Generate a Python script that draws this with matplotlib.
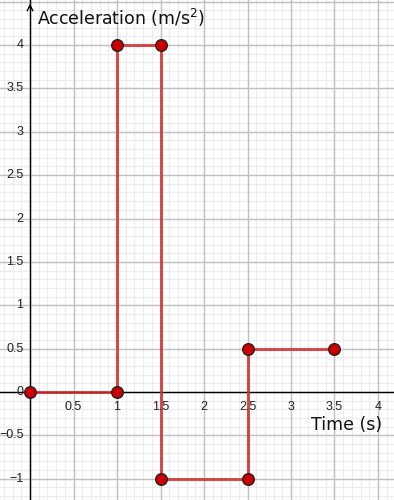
import matplotlib
matplotlib.use("Agg")
import matplotlib.pyplot as plt
import numpy as np

time_pts = [0, 1, 1, 1.5, 1.5, 2.5, 2.5, 3.5]
accel_pts = [0, 0, 4, 4, -1, -1, 0.5, 0.5]
x_ticks = [0.5, 1, 1.5, 2, 2.5, 3, 3.5, 4]
x_tick_labels = ["0.5", "1", "1.5", "2", "2.5", "3", "3.5", "4"]
y_ticks = [-1, -0.5, 0, 0.5, 1, 1.5, 2, 2.5, 3, 3.5, 4]
y_tick_labels = ["\u22121", "\u22120.5", "0", "0.5", "1", "1.5", "2", "2.5", "3", "3.5", "4"]

fig = plt.figure(figsize=(3.94, 5.0), dpi=100)
ax = fig.add_axes([0, 0, 1, 1])
xmin, xmax = -0.345, 4.184
ymin, ymax = -1.245, 4.519
ax.set_xlim(xmin, xmax)
ax.set_ylim(ymin, ymax)
for s in ax.spines.values():
    s.set_visible(False)
ax.set_xticks([]); ax.set_yticks([])

# grid
for v in np.arange(-0.3, 4.2, 0.1):
    ax.axvline(v, color="#ececec", lw=0.8, zorder=0)
for v in np.arange(-1.2, 4.6, 0.1):
    ax.axhline(v, color="#ececec", lw=0.8, zorder=0)
for v in np.arange(-0.0, 4.2, 0.5):
    ax.axvline(v, color="#c0c0c0", lw=1.0, zorder=0.5)
for v in np.arange(-1.0, 4.6, 0.5):
    ax.axhline(v, color="#c0c0c0", lw=1.0, zorder=0.5)

# axes
ax.axhline(0, color="black", lw=1.0, zorder=1)
ax.axvline(0, color="black", lw=1.0, zorder=1)
ax.annotate("", xy=(0, ymax - 0.01), xytext=(0, ymax - 0.12),
            arrowprops=dict(arrowstyle="->", color="black", lw=1.0), zorder=1)

tick_font = "Liberation Sans"
for t, lab in zip(x_ticks, x_tick_labels):
    ax.text(t, -0.1, lab, ha="center", va="top", fontsize=9, color="#222222", family=tick_font)
for t, lab in zip(y_ticks, y_tick_labels):
    ax.text(-0.075, t, lab, ha="right", va="center", fontsize=9, color="#222222", family=tick_font)

ax.text(0.08, 4.31, "Acceleration (m/s$^2$)", ha="left", va="center", fontsize=12.5, color="#111111")
ax.text(4.05, -0.38, "Time (s)", ha="right", va="center", fontsize=12.5, color="#111111")

ax.plot(time_pts, accel_pts, color="#d32f2f", lw=2.2, alpha=0.85, zorder=2, solid_capstyle="butt")
ax.scatter(time_pts, accel_pts, s=70, color="#cc0000", edgecolor="#222222", linewidth=1.0, zorder=3)

fig.savefig("out.png", dpi=100)
